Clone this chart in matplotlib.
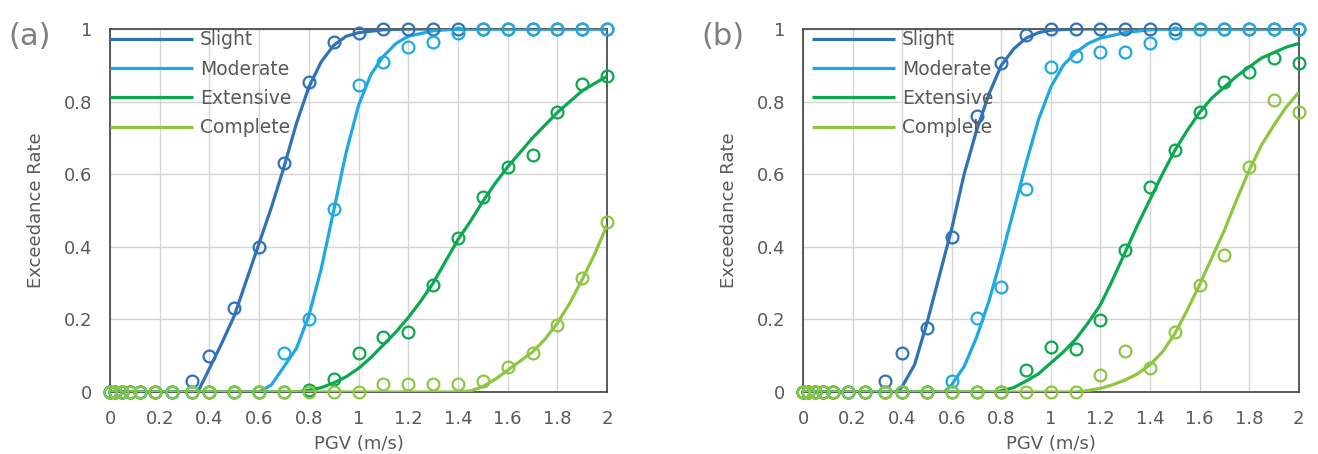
"""
Fragility curves for two cases: exceedance rate vs PGV,
observed rates (open circles) with fitted curves (lines).
"""

import matplotlib
matplotlib.use("Agg")
import matplotlib.pyplot as plt

# --- Data ---
STATES = ["Slight", "Moderate", "Extensive", "Complete"]
COLORS = ["#2e72b8", "#1fa9e3", "#0aa84f", "#8dc641"]

PGV = [0, 0.02, 0.05, 0.08, 0.12, 0.18, 0.25, 0.33, 0.4, 0.5, 0.6, 0.7, 0.8,
       0.9, 1.0, 1.1, 1.2, 1.3, 1.4, 1.5, 1.6, 1.7, 1.8, 1.9, 2.0]

# panel (a) observed rates
slight_a = [0, 0, 0, 0, 0, 0, 0, 0.03, 0.10, 0.23, 0.40, 0.63, 0.855, 0.965,
            0.99, 1, 1, 1, 1, 1, 1, 1, 1, 1, 1]
moderate_a = [0, 0, 0, 0, 0, 0, 0, 0, 0, 0, 0, 0.107, 0.20, 0.503, 0.846,
              0.91, 0.95, 0.965, 0.99, 1, 1, 1, 1, 1, 1]
extensive_a = [0, 0, 0, 0, 0, 0, 0, 0, 0, 0, 0, 0, 0.005, 0.035, 0.107,
               0.152, 0.166, 0.295, 0.423, 0.538, 0.62, 0.653, 0.77, 0.848, 0.87]
complete_a = [0, 0, 0, 0, 0, 0, 0, 0, 0, 0, 0, 0, 0, 0, 0, 0.022, 0.022,
              0.022, 0.022, 0.03, 0.07, 0.107, 0.185, 0.313, 0.469]

# panel (b) observed rates
slight_b = [0, 0, 0, 0, 0, 0, 0, 0.03, 0.107, 0.175, 0.428, 0.759, 0.905,
            0.983, 1, 1, 1, 1, 1, 1, 1, 1, 1, 1, 1]
moderate_b = [0, 0, 0, 0, 0, 0, 0, 0, 0, 0, 0.03, 0.204, 0.29, 0.56, 0.896,
              0.925, 0.937, 0.937, 0.962, 0.99, 1, 1, 1, 1, 1]
extensive_b = [0, 0, 0, 0, 0, 0, 0, 0, 0, 0, 0, 0, 0, 0.06, 0.125, 0.118,
               0.198, 0.39, 0.566, 0.667, 0.772, 0.855, 0.882, 0.92, 0.905]
complete_b = [0, 0, 0, 0, 0, 0, 0, 0, 0, 0, 0, 0, 0, 0, 0, 0, 0.047, 0.114,
              0.065, 0.166, 0.295, 0.377, 0.62, 0.804, 0.772]

# panel (a) fitted curves, sampled from the figure
slight_a_cx = [0, 0.35, 0.36, 0.375, 0.4, 0.45, 0.5, 0.55, 0.6, 0.65, 0.7, 0.75,
               0.8, 0.85, 0.9, 0.95, 1.0, 1.1, 1.2, 2.0]
slight_a_cy = [0, 0, 0.01, 0.03, 0.065, 0.135, 0.21, 0.31, 0.41, 0.51, 0.62,
               0.74, 0.84, 0.91, 0.955, 0.98, 0.99, 0.998, 1, 1]
moderate_a_cx = [0, 0.6, 0.65, 0.7, 0.75, 0.8, 0.85, 0.9, 0.95, 1.0, 1.05, 1.1,
                 1.15, 1.2, 1.3, 1.4, 2.0]
moderate_a_cy = [0, 0, 0.02, 0.07, 0.12, 0.21, 0.34, 0.5, 0.66, 0.79, 0.875,
                 0.925, 0.96, 0.98, 0.995, 1, 1]
extensive_a_cx = [0, 0.75, 0.8, 0.85, 0.9, 0.95, 1.0, 1.05, 1.1, 1.15, 1.2, 1.25,
                  1.3, 1.35, 1.4, 1.45, 1.5, 1.55, 1.6, 1.7, 1.8, 1.9, 2.0]
extensive_a_cy = [0, 0, 0.005, 0.012, 0.025, 0.042, 0.065, 0.095, 0.13, 0.165,
                  0.205, 0.25, 0.30, 0.36, 0.42, 0.47, 0.525, 0.575, 0.62, 0.70,
                  0.77, 0.83, 0.87]
complete_a_cx = [0, 1.4, 1.45, 1.5, 1.55, 1.6, 1.65, 1.7, 1.75, 1.8, 1.85, 1.9,
                 1.95, 2.0]
complete_a_cy = [0, 0, 0.003, 0.015, 0.035, 0.06, 0.085, 0.11, 0.145, 0.19,
                 0.245, 0.31, 0.38, 0.46]

# panel (b) fitted curves, sampled from the figure
slight_b_cx = [0, 0.38, 0.4, 0.45, 0.5, 0.55, 0.6, 0.65, 0.7, 0.75, 0.8, 0.85,
               0.9, 0.95, 1.0, 1.1, 2.0]
slight_b_cy = [0, 0, 0.015, 0.075, 0.19, 0.32, 0.45, 0.6, 0.72, 0.82, 0.9,
               0.945, 0.975, 0.99, 0.997, 1, 1]
moderate_b_cx = [0, 0.57, 0.6, 0.65, 0.7, 0.75, 0.8, 0.85, 0.9, 0.95, 1.0, 1.05,
                 1.1, 1.15, 1.2, 1.3, 1.4, 1.5, 2.0]
moderate_b_cy = [0, 0, 0.02, 0.07, 0.15, 0.25, 0.37, 0.5, 0.63, 0.75, 0.84, 0.9,
                 0.935, 0.96, 0.975, 0.99, 0.998, 1, 1]
extensive_b_cx = [0, 0.78, 0.85, 0.9, 0.95, 1.0, 1.05, 1.1, 1.15, 1.2, 1.25, 1.3,
                  1.35, 1.4, 1.45, 1.5, 1.55, 1.6, 1.65, 1.7, 1.75, 1.8, 1.85,
                  1.9, 1.95, 2.0]
extensive_b_cy = [0, 0, 0.012, 0.03, 0.05, 0.08, 0.11, 0.145, 0.19, 0.24, 0.31,
                  0.385, 0.46, 0.53, 0.6, 0.665, 0.72, 0.77, 0.81, 0.84, 0.87,
                  0.895, 0.92, 0.935, 0.95, 0.96]
complete_b_cx = [0, 1.1, 1.15, 1.2, 1.25, 1.3, 1.35, 1.4, 1.45, 1.5, 1.55, 1.6,
                 1.65, 1.7, 1.75, 1.8, 1.85, 1.9, 1.95, 2.0]
complete_b_cy = [0, 0, 0.004, 0.01, 0.02, 0.033, 0.05, 0.075, 0.11, 0.16, 0.225,
                 0.295, 0.37, 0.445, 0.53, 0.61, 0.68, 0.735, 0.785, 0.825]

X_TICKS = [0, 0.2, 0.4, 0.6, 0.8, 1, 1.2, 1.4, 1.6, 1.8, 2]
X_TICK_LABELS = ["0", "0.2", "0.4", "0.6", "0.8", "1", "1.2", "1.4", "1.6", "1.8", "2"]
Y_TICKS = [0, 0.2, 0.4, 0.6, 0.8, 1]
Y_TICK_LABELS = ["0", "0.2", "0.4", "0.6", "0.8", "1"]

TEXT_GRAY = "#595959"
plt.rcParams["font.family"] = ["DejaVu Sans"]


def draw_panel(ax, points, curves, tag, legend_x):
    """One fragility panel: observed points + fitted curves."""
    for name, color, (cx, cy) in zip(STATES, COLORS, curves):
        ax.plot(cx, cy, color=color, lw=2.3, label=name, zorder=3,
                solid_capstyle="butt")
    for color, ys in zip(COLORS, points):
        ax.plot(PGV, ys, linestyle="none", marker="o", ms=8.5, mew=1.6,
                mfc="none", mec=color, clip_on=False, zorder=4)

    ax.set_xlim(0, 2)
    ax.set_ylim(0, 1)
    ax.set_xticks(X_TICKS)
    ax.set_xticklabels(X_TICK_LABELS)
    ax.set_yticks(Y_TICKS)
    ax.set_yticklabels(Y_TICK_LABELS)
    ax.tick_params(length=0, labelsize=13, colors=TEXT_GRAY)
    ax.tick_params(axis="x", pad=13)
    ax.tick_params(axis="y", pad=13)
    ax.grid(True, color="#d4d4d4", lw=1)
    ax.set_axisbelow(True)
    for sp in ax.spines.values():
        sp.set_color("#404040")
        sp.set_linewidth(1.2)

    ax.set_xlabel("PGV (m/s)", fontsize=13, color=TEXT_GRAY, va="center")
    ax.xaxis.set_label_coords(0.5, -0.143)
    ax.set_ylabel("Exceedance Rate", fontsize=13, color=TEXT_GRAY, va="center")
    ax.yaxis.set_label_coords(-0.149, 0.5)

    leg = ax.legend(loc="upper left", bbox_to_anchor=(legend_x, 1.017),
                    frameon=False, handlelength=4.4, handletextpad=0.4,
                    labelspacing=0.55, fontsize=13.5, borderaxespad=0)
    for t in leg.get_texts():
        t.set_color(TEXT_GRAY)

    ax.text(-0.162, 0.978, tag, transform=ax.transAxes, fontsize=22,
            color="#7f7f7f", ha="center", va="center")


def main():
    fig = plt.figure(figsize=(13.18, 4.54), dpi=100)
    ax_a = fig.add_axes([0.0835, 0.1366, 0.3771, 0.7995])
    ax_b = fig.add_axes([0.6093, 0.1366, 0.3760, 0.7995])

    draw_panel(
        ax_a,
        [slight_a, moderate_a, extensive_a, complete_a],
        [(slight_a_cx, slight_a_cy), (moderate_a_cx, moderate_a_cy),
         (extensive_a_cx, extensive_a_cy), (complete_a_cx, complete_a_cy)],
        "(a)", -0.015,
    )
    draw_panel(
        ax_b,
        [slight_b, moderate_b, extensive_b, complete_b],
        [(slight_b_cx, slight_b_cy), (moderate_b_cx, moderate_b_cy),
         (extensive_b_cx, extensive_b_cy), (complete_b_cx, complete_b_cy)],
        "(b)", 0.003,
    )

    fig.savefig("out.png", dpi=100)
    plt.close(fig)


if __name__ == "__main__":
    main()
